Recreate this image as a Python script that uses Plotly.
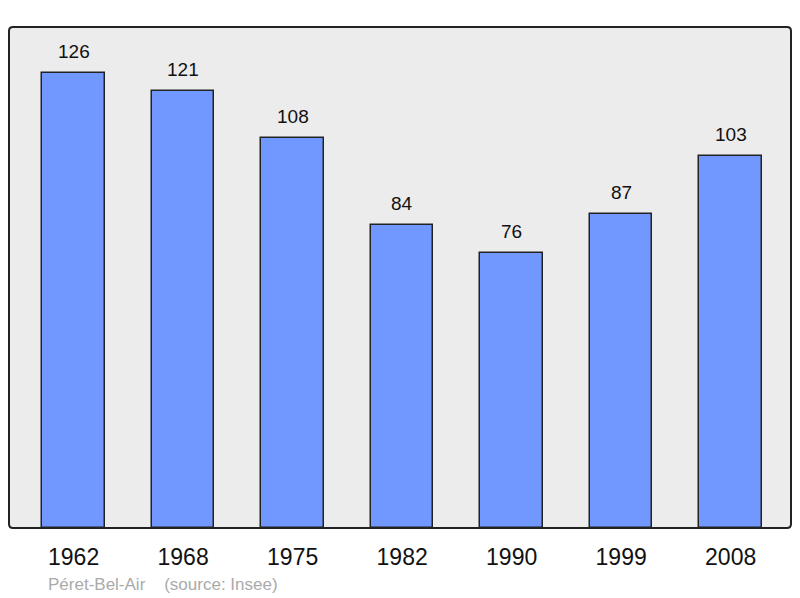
import plotly.graph_objects as go

years = ["1962", "1968", "1975", "1982", "1990", "1999", "2008"]
population = [126, 121, 108, 84, 76, 87, 103]
footer_text = "Péret-Bel-Air&nbsp;&nbsp;&nbsp;&nbsp;(source: Insee)"

W, H = 800, 598
L, R, T, B = 9, 9, 27, 70
PW, PH = W - L - R, H - T - B

fig = go.Figure()
fig.add_trace(go.Bar(
    x=years, y=population,
    width=0.572,
    marker=dict(color="#7098ff", line=dict(color="#222222", width=1.5)),
    hoverinfo="skip",
))

for i, v in enumerate(population):
    fig.add_annotation(xref="x", yref="y", x=i, y=v, text=str(v), showarrow=False,
                       yanchor="bottom", yshift=9,
                       font=dict(family="Liberation Sans, Arial", size=19, color="#111111"))

fig.add_annotation(xref="paper", yref="paper", x=(46 - L) / PW, y=-(584 - (H - B)) / PH,
                   xanchor="left", yanchor="middle", showarrow=False, text=footer_text,
                   font=dict(family="Liberation Sans, Arial", size=17, color="#aaaaaa"))

rx, ry = 4 / PW, 4 / PH
path = (f"M {rx} 0 L {1-rx} 0 Q 1 0 1 {ry} L 1 {1-ry} Q 1 1 {1-rx} 1 "
        f"L {rx} 1 Q 0 1 0 {1-ry} L 0 {ry} Q 0 0 {rx} 0 Z")
fig.add_shape(type="path", xref="paper", yref="paper", path=path,
              line=dict(color="#222222", width=2), layer="above")

fig.update_layout(
    width=W, height=H,
    margin=dict(l=L, r=R, t=T, b=B),
    paper_bgcolor="white",
    plot_bgcolor="#ececec",
    showlegend=False,
    bargap=0,
    xaxis=dict(type="category", range=[-0.59, 6.551], showgrid=False, zeroline=False,
               showline=False, ticks="outside", ticklen=8, tickcolor="rgba(0,0,0,0)",
               tickfont=dict(family="Liberation Sans, Arial", size=23, color="#111111")),
    yaxis=dict(range=[0, 138.7], showgrid=False, zeroline=False, showline=False,
               showticklabels=False, ticks=""),
)

fig.write_html("out.html", config={"displayModeBar": False},
               post_script="document.body.style.margin='0';")
